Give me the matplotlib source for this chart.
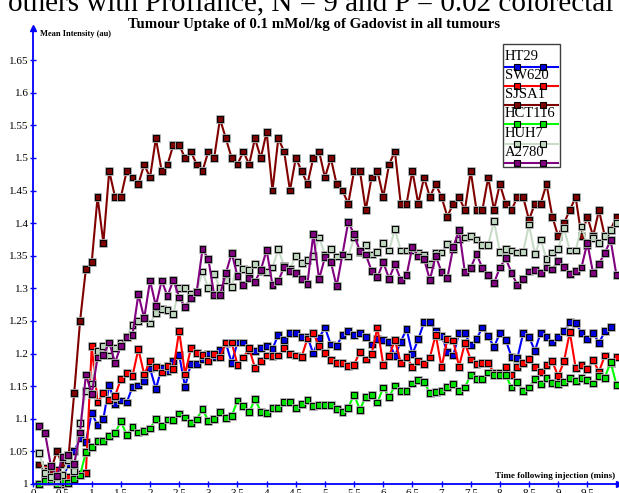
import numpy as np
import matplotlib
matplotlib.use('Agg')
import matplotlib.pyplot as plt
import matplotlib.patheffects as pe
from matplotlib.lines import Line2D
from matplotlib.offsetbox import AnchoredOffsetbox, VPacker, TextArea, DrawingArea

plt.rcParams['font.family'] = ['Liberation Serif', 'DejaVu Serif']

# temps de prélèvement (min), un point toutes les 0.1 min
time_min = np.round(np.arange(1, 101) * 0.1, 1)

ht29 = [1.000, 1.005, 1.012, 1.020, 1.008, 1.030, 1.050, 1.070, 1.065, 1.109,
        1.090, 1.100, 1.152, 1.122, 1.128, 1.125, 1.149, 1.151, 1.158, 1.177,
        1.146, 1.178, 1.173, 1.188, 1.198, 1.149, 1.184, 1.184, 1.191, 1.200,
        1.195, 1.205, 1.216, 1.186, 1.217, 1.217, 1.205, 1.204, 1.208, 1.212,
        1.207, 1.229, 1.221, 1.231, 1.231, 1.225, 1.226, 1.200, 1.224, 1.240,
        1.214, 1.211, 1.229, 1.234, 1.229, 1.231, 1.226, 1.214, 1.222, 1.221,
        1.218, 1.196, 1.218, 1.238, 1.199, 1.222, 1.248, 1.249, 1.235, 1.227,
        1.203, 1.197, 1.231, 1.231, 1.213, 1.222, 1.240, 1.227, 1.210, 1.231,
        1.221, 1.195, 1.193, 1.231, 1.226, 1.204, 1.232, 1.226, 1.217, 1.226,
        1.234, 1.248, 1.247, 1.232, 1.222, 1.232, 1.216, 1.234, 1.241]

sw620 = [1.030, 1.025, 1.020, 1.022, 1.000, 1.011, 1.010, 1.016, 1.017, 1.211,
         1.125, 1.139, 1.129, 1.135, 1.161, 1.170, 1.166, 1.207, 1.168, 1.188,
         1.180, 1.171, 1.181, 1.176, 1.235, 1.168, 1.208, 1.201, 1.198, 1.189,
         1.199, 1.194, 1.217, 1.217, 1.183, 1.194, 1.208, 1.178, 1.189, 1.197,
         1.196, 1.197, 1.209, 1.199, 1.197, 1.195, 1.223, 1.232, 1.212, 1.201,
         1.190, 1.186, 1.186, 1.181, 1.183, 1.203, 1.191, 1.199, 1.240, 1.183,
         1.196, 1.221, 1.186, 1.195, 1.180, 1.189, 1.184, 1.194, 1.229, 1.179,
         1.222, 1.220, 1.180, 1.216, 1.191, 1.184, 1.186, 1.186, 1.170, 1.170,
         1.179, 1.167, 1.179, 1.186, 1.192, 1.179, 1.172, 1.182, 1.188, 1.165,
         1.188, 1.233, 1.178, 1.182, 1.176, 1.190, 1.172, 1.197, 1.186, 1.195]

sjsa1 = [1.030, 1.020, 1.020, 1.050, 1.030, 1.040, 1.140, 1.250, 1.330, 1.340,
         1.440, 1.370, 1.480, 1.440, 1.440, 1.480, 1.470, 1.460, 1.490, 1.470,
         1.530, 1.480, 1.490, 1.520, 1.520, 1.500, 1.510, 1.490, 1.480, 1.510,
         1.500, 1.560, 1.530, 1.500, 1.490, 1.510, 1.490, 1.530, 1.500, 1.540,
         1.450, 1.530, 1.510, 1.450, 1.500, 1.480, 1.460, 1.500, 1.510, 1.470,
         1.500, 1.460, 1.450, 1.430, 1.480, 1.480, 1.420, 1.470, 1.480, 1.440,
         1.490, 1.510, 1.430, 1.430, 1.480, 1.430, 1.470, 1.440, 1.460, 1.440,
         1.410, 1.430, 1.440, 1.420, 1.480, 1.420, 1.420, 1.470, 1.420, 1.460,
         1.430, 1.420, 1.440, 1.440, 1.405, 1.430, 1.430, 1.460, 1.410, 1.380,
         1.400, 1.420, 1.440, 1.380, 1.410, 1.380, 1.420, 1.380, 1.390, 1.410]

hct116 = [1.000, 1.005, 1.004, 1.000, 1.003, 1.002, 1.008, 1.013, 1.049, 1.057,
          1.066, 1.066, 1.073, 1.078, 1.096, 1.075, 1.088, 1.079, 1.081, 1.085,
          1.100, 1.089, 1.099, 1.098, 1.108, 1.102, 1.094, 1.099, 1.115, 1.097,
          1.100, 1.110, 1.101, 1.104, 1.128, 1.119, 1.110, 1.130, 1.111, 1.109,
          1.117, 1.117, 1.126, 1.126, 1.117, 1.123, 1.129, 1.120, 1.121, 1.121,
          1.121, 1.115, 1.111, 1.117, 1.137, 1.114, 1.134, 1.137, 1.125, 1.148,
          1.133, 1.151, 1.142, 1.143, 1.154, 1.160, 1.157, 1.139, 1.141, 1.143,
          1.149, 1.153, 1.143, 1.148, 1.167, 1.161, 1.161, 1.171, 1.167, 1.167,
          1.167, 1.148, 1.157, 1.142, 1.148, 1.161, 1.153, 1.162, 1.155, 1.153,
          1.156, 1.162, 1.158, 1.163, 1.160, 1.154, 1.166, 1.163, 1.187, 1.152]

huh7 = [1.047, 1.017, 1.011, 1.005, 1.014, 1.037, 1.020, 1.094, 1.142, 1.154,
        1.204, 1.212, 1.197, 1.209, 1.217, 1.225, 1.244, 1.250, 1.255, 1.246,
        1.262, 1.268, 1.267, 1.261, 1.300, 1.300, 1.292, 1.295, 1.326, 1.300,
        1.322, 1.300, 1.313, 1.302, 1.340, 1.330, 1.328, 1.337, 1.327, 1.325,
        1.332, 1.360, 1.334, 1.330, 1.350, 1.339, 1.344, 1.350, 1.378, 1.352,
        1.360, 1.349, 1.352, 1.349, 1.378, 1.356, 1.366, 1.352, 1.356, 1.369,
        1.358, 1.391, 1.358, 1.358, 1.359, 1.354, 1.352, 1.338, 1.355, 1.355,
        1.368, 1.360, 1.375, 1.378, 1.380, 1.375, 1.367, 1.367, 1.403, 1.356,
        1.360, 1.358, 1.355, 1.356, 1.398, 1.353, 1.375, 1.345, 1.355, 1.360,
        1.392, 1.358, 1.358, 1.395, 1.367, 1.377, 1.370, 1.380, 1.389, 1.400]

a2780 = [1.089, 1.078, 1.027, 1.012, 1.041, 1.044, 1.031, 1.079, 1.168, 1.138,
         1.194, 1.198, 1.217, 1.186, 1.212, 1.226, 1.229, 1.291, 1.254, 1.312,
         1.273, 1.312, 1.288, 1.313, 1.286, 1.272, 1.285, 1.295, 1.360, 1.345,
         1.290, 1.290, 1.323, 1.354, 1.319, 1.305, 1.316, 1.310, 1.328, 1.359,
         1.305, 1.311, 1.333, 1.327, 1.324, 1.314, 1.307, 1.383, 1.314, 1.348,
         1.341, 1.303, 1.352, 1.402, 1.383, 1.357, 1.352, 1.327, 1.317, 1.340,
         1.315, 1.337, 1.313, 1.320, 1.364, 1.349, 1.345, 1.313, 1.350, 1.325,
         1.316, 1.363, 1.389, 1.325, 1.331, 1.353, 1.331, 1.320, 1.308, 1.332,
         1.346, 1.324, 1.305, 1.314, 1.326, 1.328, 1.323, 1.332, 1.329, 1.342,
         1.333, 1.322, 1.327, 1.332, 1.370, 1.323, 1.338, 1.354, 1.374, 1.320]

names = ['HT29', 'SW620', 'SJSA1', 'HCT116', 'HUH7', 'A2780']
values = [ht29, sw620, sjsa1, hct116, huh7, a2780]
line_colors = ['#0000ff', '#ff0000', '#800000', '#00ff00', '#c8dcc8', '#800080']
face_colors = ['#0000e0', '#ff0000', '#800000', '#00e000', '#c0d8c0', '#800080']

y_ticks = [1, 1.05, 1.1, 1.15, 1.2, 1.25, 1.3, 1.35, 1.4, 1.45, 1.5, 1.55, 1.6, 1.65]
y_labels = ['1', '1.05', '1.1', '1.15', '1.2', '1.25', '1.3', '1.35', '1.4', '1.45',
            '1.5', '1.55', '1.6', '1.65']
x_ticks = [0, 0.5, 1, 1.5, 2, 2.5, 3, 3.5, 4, 4.5, 5, 5.5, 6, 6.5, 7, 7.5, 8, 8.5, 9, 9.5]
x_labels = ['0', '0.5', '1', '1.5', '2', '2.5', '3', '3.5', '4', '4.5', '5', '5.5',
            '6', '6.5', '7', '7.5', '8', '8.5', '9', '9.5']

axis_blue = '#0000ff'

fig = plt.figure(figsize=(6.19, 4.93), dpi=100)
ax = fig.add_axes([0.054, 0.0183, 0.9466, 0.9258])
ax.set_xlim(0, 10.05)
ax.set_ylim(1, 1.7)

for i, (vals, lc, fc) in enumerate(zip(values, line_colors, face_colors)):
    x = time_min[:len(vals)]
    z = 2 + i * 0.1
    ax.plot(x, vals, color=lc, lw=1.5, clip_on=False, zorder=z)
    ax.plot(x, vals, ls='none', marker='s', ms=4.2, mfc=fc, mec='black', mew=0.8,
            clip_on=False, zorder=z + 0.05,
            path_effects=[pe.withStroke(linewidth=2.0, foreground='#b0b0b0')])

# axes bleus avec flèches
for side in ['top', 'right']:
    ax.spines[side].set_visible(False)
for side in ['left', 'bottom']:
    ax.spines[side].set_color(axis_blue)
    ax.spines[side].set_linewidth(1.3)
ax.plot(1, 0, '>', color=axis_blue, ms=5, transform=ax.transAxes, clip_on=False)
ax.plot(0, 1, '^', color=axis_blue, ms=5, transform=ax.transAxes, clip_on=False)

ax.set_xticks(x_ticks)
ax.set_xticklabels(x_labels)
ax.set_yticks(y_ticks)
ax.set_yticklabels(y_labels)
ax.tick_params(direction='inout', length=5, width=1, color=axis_blue,
               labelsize=8, pad=1)

fig.text(0.507, 1 - 28.4 / 493, 'Tumour Uptake of 0.1 mMol/kg of Gadovist in all tumours',
         ha='center', va='baseline', fontsize=10.7, weight='bold')
fig.text(8 / 619, 1 - 11.5 / 493, 'others with Profiance, N = 9 and P = 0.02 colorectal',
         ha='left', va='baseline', fontsize=21)
fig.text(40 / 619, 1 - 34 / 493, 'Mean Intensity (au)', ha='left', va='center',
         fontsize=6, weight='bold')
fig.text(615 / 619, 1 - 475.5 / 493, 'Time following injection (mins)', ha='right',
         va='center', fontsize=6.5, weight='bold')

# légende : nom au-dessus de l'échantillon de ligne
rows = [DrawingArea(1, 2.5, 0, 0)]
for name, lc, fc in zip(names, line_colors, face_colors):
    label = TextArea(name, textprops=dict(fontsize=10.5))
    sample = DrawingArea(38, 3, 0, 0)
    sample.add_artist(Line2D([0, 8.5, 27.5, 38], [1.5, 1.5, 1.5, 1.5], color=lc, lw=1.5,
                             marker='s', markevery=[1, 2], ms=4.2, mfc=fc, mec='black',
                             mew=0.8))
    rows.append(VPacker(children=[label, sample], align='left', pad=0, sep=1.5))
box = VPacker(children=rows, align='left', pad=0, sep=0)
leg = AnchoredOffsetbox(loc='upper left', child=box, pad=0.15, borderpad=0,
                        frameon=True, bbox_to_anchor=(502.7 / 619, 1 - 44 / 493),
                        bbox_transform=fig.transFigure)
leg.patch.set_boxstyle('square', pad=0)
leg.patch.set_edgecolor('#404040')
leg.patch.set_linewidth(1)
fig.add_artist(leg)

fig.savefig('out.png', dpi=100)
